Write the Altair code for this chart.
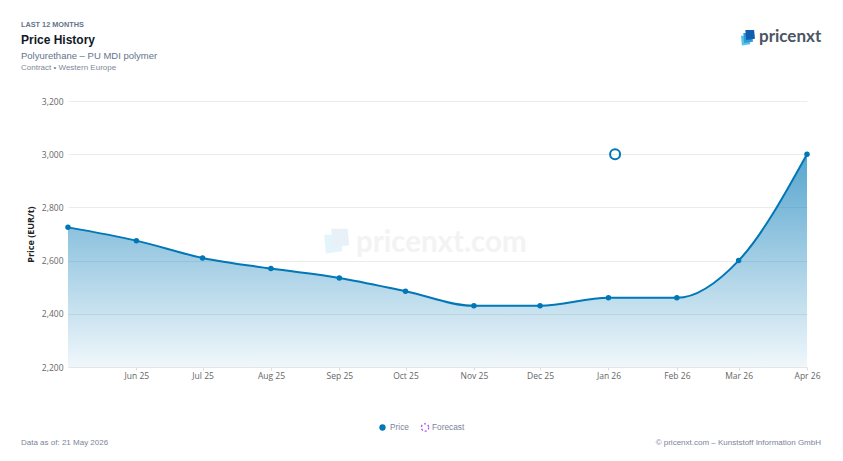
import altair as alt
import pandas as pd

# values
months = ["2025-05-01", "2025-06-01", "2025-07-01", "2025-08-01", "2025-09-01", "2025-10-01",
          "2025-11-01", "2025-12-01", "2026-01-01", "2026-02-01", "2026-03-01", "2026-04-01"]
prices = [2725, 2675, 2610, 2570, 2535, 2485, 2430, 2430, 2460, 2460, 2600, 3000]
ring_date = ["2026-01-04"]
ring_price = [3000]
y_ticks = [2200, 2400, 2600, 2800, 3000, 3200]

BLUE = "#0077b6"
LEFT, TOP = 60, 93  # plot area offset inside the svg


def ms(day):
    return int(pd.Timestamp(day, tz="UTC").timestamp() * 1000)


data = pd.DataFrame({"date": [ms(m) for m in months], "price": prices, "base": 2200})
ring = pd.DataFrame({"date": [ms(d) for d in ring_date], "price": ring_price})
one = pd.DataFrame({"a": [0]})

x_enc = alt.X(
    "date:T",
    title=None,
    scale=alt.Scale(type="utc", domain=[ms(months[0]), ms(months[-1])]),
    axis=alt.Axis(
        values=[ms(m) for m in months[1:]],
        labelExpr="utcFormat(datum.value, '%b %y')",
        grid=False,
        labelFontSize=8.5,
        labelFont="Open Sans",
        labelColor="#666666",
        labelPadding=1,
        labelFlush=False,
        tickColor="#dddddd",
        tickSize=3,
        domainColor="#e6e6e6",
    ),
)
y_enc = alt.Y(
    "price:Q",
    scale=alt.Scale(domain=[2200, 3200]),
    axis=alt.Axis(
        values=y_ticks,
        format=",d",
        title="Price (EUR/t)",
        titleFont="Open Sans",
        titleFontSize=9,
        titleFontWeight="bold",
        titleColor="#222222",
        titlePadding=6,
        labelFont="Open Sans",
        labelFontSize=8.5,
        labelColor="#666666",
        labelPadding=5,
        ticks=False,
        domain=False,
        gridColor="#ececec",
    ),
)

base = alt.Chart(data).encode(x=x_enc, y=y_enc)

area = base.mark_area(
    interpolate="monotone",
    line=False,
    color=alt.Gradient(
        gradient="linear",
        x1=0, y1=0, x2=0, y2=1,
        stops=[
            alt.GradientStop(color="rgba(0,119,182,0.66)", offset=0),
            alt.GradientStop(color="rgba(0,119,182,0.06)", offset=1),
        ],
    ),
).encode(y2=alt.Y2("base:Q"))
line = base.mark_line(interpolate="monotone", color=BLUE, strokeWidth=2)
dots = base.mark_circle(color=BLUE, size=30, opacity=1)
ring_mark = (
    alt.Chart(ring)
    .mark_point(color=BLUE, filled=False, size=100, strokeWidth=2, opacity=1)
    .encode(x="date:T", y="price:Q")
)


def label(text, px, py, size, color, weight="normal", align="left", font="Liberation Sans", opacity=1):
    # px, py are page positions of the reference
    return (
        alt.Chart(one)
        .mark_text(text=text, fontSize=size, color=color, fontWeight=weight, align=align,
                   baseline="middle", font=font, opacity=opacity)
        .encode(x=alt.value(px - LEFT - 8), y=alt.value(py - TOP - 8))
    )


def blob(px, py, size, color, opacity=1, filled=True, dash=None, width=1):
    kw = {"strokeDash": dash} if dash else {}
    return (
        alt.Chart(one)
        .mark_point(shape=SHAPE if size > 70 else "circle", filled=filled, color=color, size=size,
                    opacity=opacity, strokeWidth=width, **kw)
        .encode(x=alt.value(px - LEFT - 8), y=alt.value(py - TOP - 8))
    )


SHAPE = "M-0.76,-1 L0.84,-1 L1,0.6 L-0.6,0.84 Z"

texts = [
    label("LAST 12 MONTHS", 21, 24.5, 7.3, "#64748b", "bold"),
    label("Price History", 21, 40, 12, "#111827", "bold"),
    label("Polyurethane – PU MDI polymer", 21, 56, 9.5, "#64748b"),
    label("Contract • Western Europe", 21, 67.5, 8, "#7b8798"),
    label("Price", 390, 427.5, 8.3, "#7a8499"),
    label("Forecast", 432, 427.5, 8.3, "#7a8499"),
    label("Data as of: 21 May 2026", 21, 443, 8, "#7a8499"),
    label("© pricenxt.com – Kunststoff Information GmbH", 821, 443, 8, "#7a8499", align="right"),
    label("pricenxt", 759, 37, 17, "#4b5563", "bold", font="Lato"),
    label("pricenxt.com", 356, 243, 29.5, "#f3f3f3", "bold", font="Lato"),
]
logo = [
    blob(745, 41, 110, "#55c4ea"),
    blob(747.5, 38.5, 120, "#2c9bd6"),
    blob(749.5, 35.5, 120, "#0f5fae"),
    blob(332, 245, 420, "#e4f4fb"),
    blob(339, 239, 420, "#e8f0f8"),
]
legend = [
    blob(382.5, 427.5, 40, BLUE),
    blob(425, 427.5, 55, "#b44cf0", filled=False, dash=[2, 2], width=1.3),
]

chart = alt.layer(
    *logo[3:], texts[-1], area, line, dots, ring_mark, *texts[:-1], *logo[:3], *legend
).properties(
    width=739,
    height=266,
    background="white",
    autosize=alt.AutoSizeParams(type="none"),
    padding={"left": LEFT, "top": TOP, "right": 28, "bottom": 88},
).configure_view(stroke=None)

chart.save("out.html", embed_options={"renderer": "svg", "actions": False})
